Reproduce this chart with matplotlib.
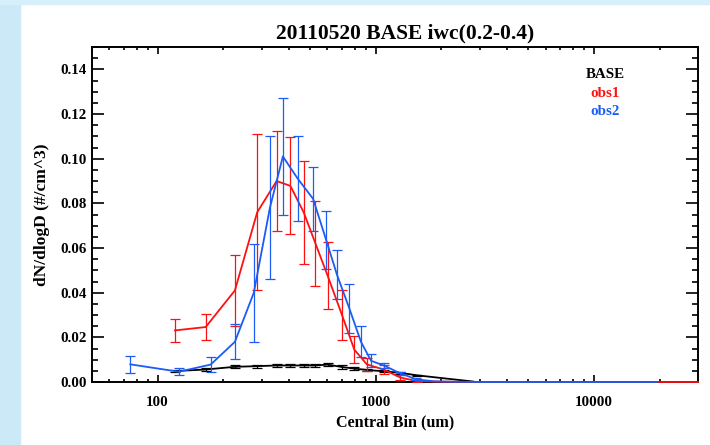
import numpy as np
import matplotlib
matplotlib.use("Agg")
import matplotlib.pyplot as plt
from matplotlib.patches import Rectangle
from matplotlib.ticker import LogLocator, MultipleLocator, NullFormatter

# size distributions (bin centre in um, dN/dlogD in #/cm^3)
x_base = [120, 166, 226, 286, 351, 406, 467, 529, 602, 700, 797, 910, 1085, 1295, 1543, 2120, 2800]
base = [0.0049, 0.0056, 0.0068, 0.0071, 0.0074, 0.0074, 0.0074, 0.0074, 0.0078, 0.0067,
        0.0060, 0.0054, 0.0048, 0.0041, 0.0030, 0.0015, 0.0002]
base_err = [0.0006, 0.0007, 0.0007, 0.0007, 0.0008, 0.0008, 0.0008, 0.0008, 0.0008, 0.0007,
            0.0006, 0.0005, 0.0004, 0.0003, 0.0002, 0.0, 0.0]

x_obs1 = [120, 166, 226, 286, 351, 406, 467, 529, 602, 700, 797, 910, 1085, 1295, 1543,
          1850, 2250, 2800, 3500, 5000, 7000, 10000, 15000, 20000, 30000]
obs1 = [0.0231, 0.0246, 0.0410, 0.0760, 0.0900, 0.0878, 0.0760, 0.0620, 0.0475, 0.0300,
        0.0145, 0.0079, 0.0056, 0.0020, 0.0004, 0.0002, 0.0001, 0, 0, 0, 0, 0, 0, 0, 0]
obs1_err = [0.0050, 0.0058, 0.0160, 0.0350, 0.0224, 0.0217, 0.0230, 0.0190, 0.0150, 0.0112,
            0.0060, 0.0030, 0.0022, 0.0010, 0.0003, 0, 0, 0, 0, 0, 0, 0, 0, 0, 0]

x_obs2 = [75, 125, 175, 226, 276, 327, 375, 439, 516, 593, 664, 756, 855, 951, 1094, 1294,
          1531, 1850, 2300, 3000, 4000, 5500, 7500, 10000, 14000, 19400]
obs2 = [0.0079, 0.0046, 0.0078, 0.0180, 0.0400, 0.0780, 0.1010, 0.0910, 0.0820, 0.0634,
        0.0480, 0.0330, 0.0180, 0.0095, 0.0073, 0.0039, 0.0012, 0.0003, 0.0001, 0, 0, 0, 0, 0, 0, 0]
obs2_err = [0.0037, 0.0015, 0.0032, 0.0079, 0.0220, 0.0320, 0.0263, 0.0190, 0.0143, 0.0130,
            0.0110, 0.0110, 0.0070, 0.0030, 0.0012, 0.0008, 0.0004, 0, 0, 0, 0, 0, 0, 0, 0, 0]

xtick_vals = [100, 1000, 10000]
xtick_labels = ["100", "1000", "10000"]

series = [("BASE", x_base, base, base_err, "black"),
          ("obs1", x_obs1, obs1, obs1_err, "#ff1010"),
          ("obs2", x_obs2, obs2, obs2_err, "#1a5cf5")]

plt.rcParams["font.family"] = ["Liberation Serif", "DejaVu Serif"]
plt.rcParams["font.weight"] = "bold"

fig = plt.figure(figsize=(7.1, 4.45), dpi=100)
# light blue page strips on the left and top
fig.add_artist(Rectangle((0, 0), 20 / 710, 1, transform=fig.transFigure,
                         color="#cbe9f6", zorder=0))
fig.add_artist(Rectangle((0, 1 - 4 / 445), 1, 4 / 445, transform=fig.transFigure,
                         color="#d6effa", zorder=0))

ax = fig.add_axes([92 / 710, 1 - 382 / 445, 606 / 710, 335 / 445])

for name, xs, ys, es, col in series:
    xs = np.array(xs, float); ys = np.array(ys, float); es = np.array(es, float)
    ax.plot(xs, ys, color=col, lw=1.3, clip_on=False, zorder=3)
    m = es > 0
    ax.errorbar(xs[m], ys[m], yerr=es[m], fmt="none", ecolor=col, elinewidth=0.9,
                capsize=3.6, capthick=0.9, zorder=3)

ax.set_xscale("log")
ax.set_xlim(50, 30000)
ax.set_ylim(0, 0.15)
ax.set_xticks(xtick_vals, labels=xtick_labels)
ax.xaxis.set_minor_locator(LogLocator(base=10, subs=np.arange(2, 10)))
ax.xaxis.set_minor_formatter(NullFormatter())
ax.yaxis.set_major_locator(MultipleLocator(0.02))
ax.yaxis.set_minor_locator(MultipleLocator(0.005))
ax.yaxis.set_major_formatter(plt.FormatStrFormatter("%.2f"))

for s in ax.spines.values():
    s.set_linewidth(1.4)
ax.tick_params(which="both", direction="in", top=True, right=True, width=1.2,
               labelsize=10.8)
ax.tick_params(axis="x", which="major", length=4.8, pad=10)
ax.tick_params(axis="x", which="minor", length=2.4)
ax.tick_params(axis="y", which="major", length=8.4, pad=4)
ax.tick_params(axis="y", which="minor", length=4.1)
for lab in ax.get_xticklabels() + ax.get_yticklabels():
    lab.set_fontweight("bold")
ax.get_yticklabels()[0].set_va("bottom")

ax.set_title("20110520 BASE iwc(0.2-0.4)", fontsize=15.5, fontweight="bold", pad=6,
             x=0.5 + 10 / 606)
ax.set_xlabel("Central Bin (um)", fontsize=11.6, fontweight="bold")
ax.set_ylabel("dN/dlogD (#/cm^3)", fontsize=12.5, fontweight="bold")
ax.xaxis.set_label_coords(0.5, -0.098)
ax.yaxis.set_label_coords(-0.07, 0.5)

for i, (name, xs, ys, es, col) in enumerate(series):
    ax.text(0.8465, 0.917 - i * 0.0555, name, color=col, transform=ax.transAxes,
            ha="center", va="center", fontsize=10.8, fontweight="bold")

fig.savefig("out.png", dpi=100)
